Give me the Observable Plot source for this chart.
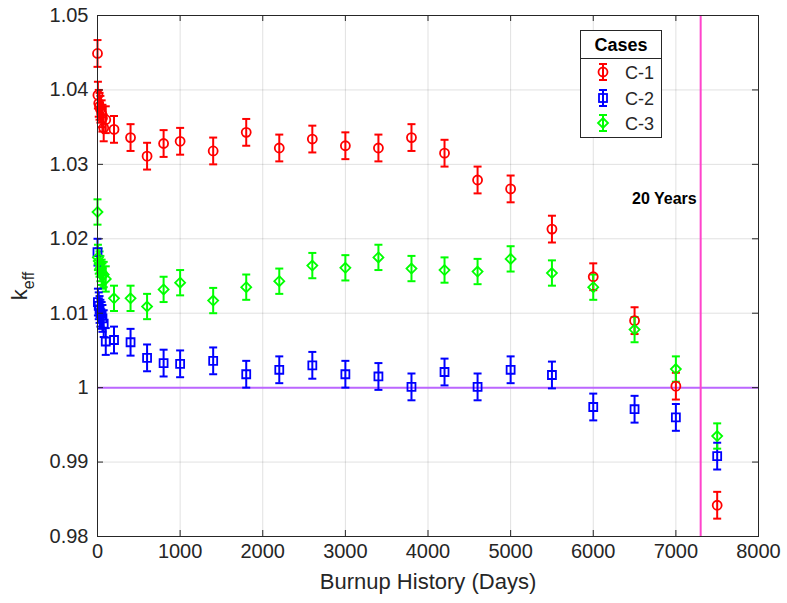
<!DOCTYPE html>
<html><head><meta charset="utf-8">
<script src="https://cdn.jsdelivr.net/npm/d3@7"></script>
<script src="https://cdn.jsdelivr.net/npm/@observablehq/plot@0.6"></script>
<style>
body{margin:0;background:#fff;}
#wrap{position:relative;width:787px;height:603px;font-family:"Liberation Sans",Arial,Helvetica,sans-serif;}
#legend{position:absolute;left:580px;top:30px;width:82px;height:108px;border:1px solid #262626;background:#fff;box-sizing:border-box;color:#000;}
#legend .ttl{height:27px;line-height:28px;text-align:center;font-weight:bold;font-size:18px;border-bottom:1px solid #262626;}
#legend .row{position:relative;height:25.5px;}
#legend .row svg{position:absolute;left:12px;top:0;}
#legend .row span{position:absolute;left:44px;top:4px;font-size:18px;line-height:20px;color:#262626;}
</style></head><body><div id="wrap"></div>
<script>
// ---- data ----
const days = [0, 5, 15, 25, 35, 50, 60, 75, 100, 200, 400, 600, 800, 1000, 1400, 1800, 2200, 2600, 3000, 3400, 3800, 4200, 4600, 5000, 5500, 6000, 6500, 7000, 7500];
const keffC1 = [1.0449, 1.0393, 1.0382, 1.0378, 1.0374, 1.0368, 1.0362, 1.0349, 1.0360, 1.0347, 1.0336, 1.0311, 1.0328, 1.0331, 1.0318, 1.0343, 1.0322, 1.0334, 1.0325, 1.0322, 1.0336, 1.0315, 1.0279, 1.0267, 1.0213, 1.0149, 1.0090, 1.0002, 0.9842];
const keffC2 = [1.0182, 1.0115, 1.0110, 1.0105, 1.0100, 1.0097, 1.0093, 1.0086, 1.0062, 1.0064, 1.0061, 1.0040, 1.0033, 1.0032, 1.0036, 1.0018, 1.0024, 1.0030, 1.0018, 1.0015, 1.0001, 1.0021, 1.0001, 1.0024, 1.0017, 0.9974, 0.9971, 0.9960, 0.9908];
const keffC3 = [1.0236, 1.0175, 1.0170, 1.0166, 1.0160, 1.0155, 1.0150, 1.0152, 1.0146, 1.0120, 1.0120, 1.0109, 1.0132, 1.0141, 1.0117, 1.0135, 1.0143, 1.0164, 1.0161, 1.0175, 1.0160, 1.0158, 1.0156, 1.0173, 1.0154, 1.0135, 1.0078, 1.0025, 0.9935];
const caseNames = ["C-1", "C-2", "C-3"];
const caseErrors = [0.0018, 0.0018, 0.0017];
const xTicks = [0, 1000, 2000, 3000, 4000, 5000, 6000, 7000, 8000];
const yTicks = [0.98, 0.99, 1, 1.01, 1.02, 1.03, 1.04, 1.05];
const criticalK = [1];
const twentyYearsDay = [7300];
const annotationText = ["20 Years"];
const annotationK = [1.0254];
const xLabel = "Burnup History (Days)";
const legendTitle = "Cases";

// ---- styles ----
const caseColors = ["#ff0000", "#0000ff", "#00ff00"];
const caseSymbols = ["circle", "square", "diamond2"];
const axisColor = "#262626";

const series = [keffC1, keffC2, keffC3];
const rows = [];
series.forEach((vals, s) => vals.forEach((k, i) => rows.push({case: caseNames[s], day: days[i], k, err: caseErrors[s]})));

const W = 787, H = 603, mL = 97, mR = 29, mT = 15, mB = 67;
const fw = W - mL - mR, fh = H - mT - mB;
const capSymbol = {draw(ctx, size) { const w = Math.sqrt(size / Math.PI); ctx.moveTo(-w, 0); ctx.lineTo(w, 0); }};
const colorScale = {domain: caseNames, range: caseColors};

const svg = Plot.plot({
  width: W, height: H,
  marginLeft: mL, marginRight: mR, marginTop: mT, marginBottom: mB,
  style: {fontFamily: "'Liberation Sans', Arial, Helvetica, sans-serif", fontSize: "20px", background: "#fff", color: axisColor},
  x: {domain: [0, 8000], ticks: xTicks},
  y: {domain: [0.98, 1.05], ticks: yTicks},
  color: colorScale,
  symbol: {domain: caseNames, range: caseSymbols},
  marks: [
    Plot.gridX(xTicks, {stroke: "#000", strokeOpacity: 0.12}),
    Plot.gridY(yTicks, {stroke: "#000", strokeOpacity: 0.12}),
    Plot.ruleY(criticalK, {y: d => d, stroke: "#bb66ff", strokeWidth: 2}),
    Plot.ruleX(twentyYearsDay, {x: d => d, stroke: "#ff44cc", strokeWidth: 2}),
    Plot.ruleX(rows, {x: "day", y1: d => d.k - d.err, y2: d => d.k + d.err, stroke: "case", strokeWidth: 2}),
    Plot.dot(rows, {x: "day", y: d => d.k - d.err, stroke: "case", symbol: capSymbol, r: 4, fill: "none", strokeWidth: 2}),
    Plot.dot(rows, {x: "day", y: d => d.k + d.err, stroke: "case", symbol: capSymbol, r: 4, fill: "none", strokeWidth: 2}),
    Plot.dot(rows, {x: "day", y: "k", stroke: "case", symbol: "case", r: 4.5, fill: "none", strokeWidth: 1.8}),
    Plot.frame({stroke: axisColor}),
    Plot.tickX(xTicks, {x: d => d, insetTop: fh - 6, stroke: axisColor}),
    Plot.tickX(xTicks, {x: d => d, insetBottom: fh - 6, stroke: axisColor}),
    Plot.tickY(yTicks, {y: d => d, insetRight: fw - 6, stroke: axisColor}),
    Plot.tickY(yTicks, {y: d => d, insetLeft: fw - 6, stroke: axisColor}),
    Plot.axisX(xTicks, {tickSize: 0, tickPadding: 7, label: null, tickFormat: d => String(d), fontSize: 20, color: axisColor}),
    Plot.axisY(yTicks, {tickSize: 0, tickPadding: 9, label: null, tickFormat: d => String(d), fontSize: 20, color: axisColor}),
    Plot.text([xLabel], {text: d => d, frameAnchor: "bottom", dy: 52, fontSize: 22, fill: axisColor}),
    Plot.text(annotationText, {text: d => d, x: twentyYearsDay[0], y: annotationK[0], textAnchor: "end", dx: -4, fontSize: 16, fontWeight: "bold", fill: "#000"})
  ]
});

const yl = d3.select(svg).append("text")
  .attr("transform", "translate(27,286) rotate(-90)")
  .attr("text-anchor", "middle")
  .attr("fill", axisColor)
  .attr("font-size", 22);
yl.append("tspan").text("k");
yl.append("tspan").attr("font-size", 16).attr("dy", 7).text("eff");

const wrap = document.getElementById("wrap");
wrap.appendChild(svg);

// legend
const lg = document.createElement("div");
lg.id = "legend";
let html = `<div class="ttl">${legendTitle}</div>`;
const symPath = {
  circle: '<circle cx="10" cy="13" r="4.5" fill="none" stroke-width="1.8"/>',
  square: '<rect x="6" y="9" width="8" height="8" fill="none" stroke-width="1.8"/>',
  diamond2: '<path d="M10 8 L15 13 L10 18 L5 13 Z" fill="none" stroke-width="1.8"/>'
};
caseNames.forEach((n, i) => {
  html += `<div class="row"><svg width="20" height="26" stroke="${caseColors[i]}">
    <line x1="10" y1="5" x2="10" y2="21" stroke-width="2"/>
    <line x1="6" y1="5" x2="14" y2="5" stroke-width="2"/>
    <line x1="6" y1="21" x2="14" y2="21" stroke-width="2"/>
    ${symPath[caseSymbols[i]]}</svg><span>${n}</span></div>`;
});
lg.innerHTML = html;
wrap.appendChild(lg);
</script>
</body></html>
